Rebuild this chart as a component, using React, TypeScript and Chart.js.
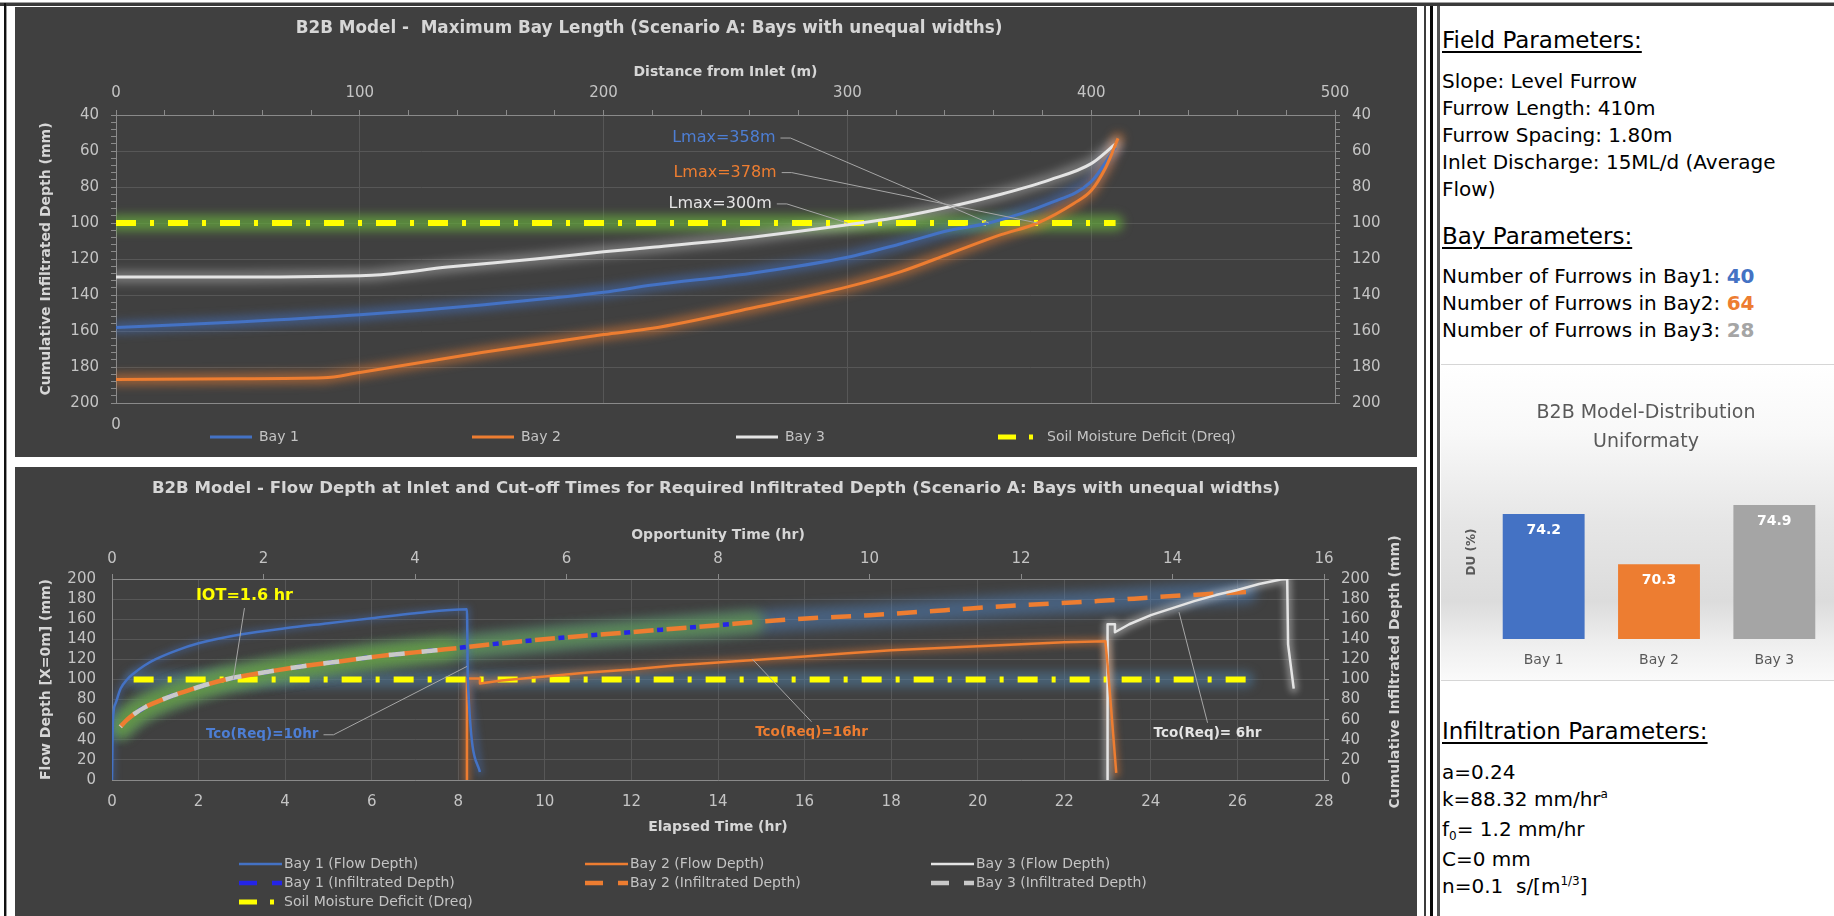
import React, { useEffect, useRef } from 'react';
import { Chart, registerables } from 'chart.js';

Chart.register(...registerables);

const FONT = '"DejaVu Sans", Verdana, sans-serif';
const PANEL_BG = '#404040';
const GRID = '#575757';
const AXIS = '#8a8a8a';
const TICK = '#c4c4c4';
const TITLE = '#d6d6d6';
const LEADER = '#a6a6a6';
const BLUE = '#4472c4';
const ORANGE = '#ed7d31';
const LIGHT = '#e4e4e4';
const YELLOW = '#ffff00';
const VIVID_BLUE = '#2424e8';
const GRAY_BAR = '#a5a5a5';

type P = [number, number];

// ===================== Top chart: Maximum Bay Length =====================
const distanceTickLabels = [0, 100, 200, 300, 400, 500];
const depthTickLabels = [40, 60, 80, 100, 120, 140, 160, 180, 200];

const lengthBay1: P[] = [[0, 158], [50, 155], [100, 151], [150, 145.5], [200, 138.5], [220, 134.5], [260, 128], [300, 119], [322, 111.5], [342, 104], [358, 100], [383, 89], [400, 77], [410, 58]];
const lengthBay2: P[] = [[0, 187], [50, 186.5], [85, 186], [100, 183], [150, 172], [200, 162], [220, 158.5], [260, 147.5], [300, 135.5], [322, 127], [342, 117], [363, 106.5], [378, 100], [393, 89], [400, 82], [406, 69], [411, 53]];
const lengthBay3: P[] = [[0, 130], [50, 130], [105, 129], [136, 124.5], [172, 120], [200, 116], [220, 113.5], [260, 108], [300, 101], [322, 96.5], [342, 91], [363, 84], [383, 76], [400, 67], [410, 56]];
const lengthDreq: P[] = [[0, 100], [410, 100]];
const lmaxLabels = ['Lmax=358m', 'Lmax=378m', 'Lmax=300m'];
const lmaxPoints: P[] = [[358, 100], [378, 100], [300, 100]];

// ===================== Bottom chart: Flow depth & infiltration =====================
const elapsedTickLabels = [0, 2, 4, 6, 8, 10, 12, 14, 16, 18, 20, 22, 24, 26, 28];
const opportunityTickLabels = [0, 2, 4, 6, 8, 10, 12, 14, 16];
const flowTickLabels = [0, 20, 40, 60, 80, 100, 120, 140, 160, 180, 200];

// x = elapsed time (hr), y = flow depth (mm)
const flowBay1: P[] = [[0, 0], [0.02, 58], [0.08, 76], [0.2, 91], [0.35, 100], [0.5, 106], [0.75, 114], [1, 120], [1.5, 129], [2, 136], [3, 145], [4, 151], [5, 156], [6, 161], [7, 166], [8.2, 170], [8.22, 100], [8.5, 8]];
const flowBay2: P[] = [[8.2, 0], [8.2, 101], [8.5, 101], [8.5, 96], [9, 99], [10, 103], [11, 107], [12, 110], [13, 114], [14, 117], [15, 120], [16, 123], [17, 126], [18, 129], [19, 131], [20, 133], [21, 135], [22, 137], [22.95, 138], [23.0, 115], [23.2, 7]];
const flowBay3: P[] = [[23.0, 0], [23.0, 155], [23.17, 155], [23.17, 147], [23.5, 155], [24, 164], [24.5, 171], [25, 178], [25.5, 184], [26, 189], [26.5, 195], [27, 199.5], [27.15, 200], [27.17, 135], [27.3, 91]];
// x = opportunity time (hr), y = cumulative infiltrated depth (mm)
const infilBay1: P[] = [[0.11, 53], [0.2, 60], [0.3, 66], [0.45, 73], [0.6, 78], [0.8, 84], [1.0, 89], [1.25, 95], [1.5, 100], [2.0, 107], [2.5, 113], [3.0, 118], [3.5, 123], [4.0, 127], [4.4, 130], [5.0, 135], [6.0, 142], [7.0, 148], [8.0, 154], [8.46, 157]];
const infilBay2: P[] = [[0.11, 53], [0.2, 60], [0.3, 66], [0.45, 73], [0.6, 78], [0.8, 84], [1.0, 89], [1.25, 95], [1.5, 100], [2.0, 107], [2.5, 113], [3.0, 118], [3.5, 123], [4.0, 127], [4.4, 130], [5.0, 135], [6.0, 142], [7.0, 148], [8.0, 154], [8.46, 157], [9.0, 160], [10.0, 164], [11.0, 169], [12.0, 174], [13.0, 178], [14.0, 183], [14.97, 187]];
const infilBay3: P[] = [[0.11, 53], [0.2, 60], [0.3, 66], [0.45, 73], [0.6, 78], [0.8, 84], [1.0, 89], [1.25, 95], [1.5, 100], [2.0, 107], [2.5, 113], [3.0, 118], [3.5, 123], [4.0, 127], [4.4, 130]];
const flowDreq: P[] = [[0.5, 100], [26.2, 100]];
const iotLabel = 'IOT=1.6 hr';
const iotPoint: P = [2.8, 100];
const tcoLabels = ['Tco(Req)=10hr', 'Tco(Req)=16hr', 'Tco(Req)= 6hr'];
const tcoPoints: P[] = [[8.2, 113], [14.8, 120], [24.65, 167]];

// ===================== Distribution uniformity bars =====================
const duCategories = ['Bay 1', 'Bay 2', 'Bay 3'];
const duValues = [74.2, 70.3, 74.9];

// ---------------------------------------------------------------------------
const toXY = (arr: P[]) => arr.map(([x, y]) => ({ x, y }));
const tickObjs = (vals: number[]) => vals.map((value) => ({ value }));
const stepTicks = (min: number, max: number, step: number) => {
  const out: any[] = [];
  for (let i = 0; min + i * step <= max + 1e-9; i++) out.push({ value: Math.round((min + i * step) * 1000) / 1000 });
  return out;
};
const TRANSPARENT = 'rgba(0,0,0,0)';

// soft coloured halos drawn under all lines (Excel "glow" effect)
const haloPlugin = {
  id: 'halo',
  beforeDatasetsDraw(chart: any) {
    const ctx = chart.ctx;
    const area = chart.chartArea;
    const list = chart.data.datasets
      .map((ds: any, i: number) => ({ ds, i }))
      .filter((o: any) => o.ds.haloColor)
      .sort((a: any, b: any) => (a.ds.haloZ || 0) - (b.ds.haloZ || 0));
    ctx.save();
    ctx.beginPath();
    ctx.rect(area.left, area.top, area.right - area.left, area.bottom - area.top);
    ctx.clip();
    list.forEach(({ ds, i }: any) => {
      const pts = chart.getDatasetMeta(i).data;
      if (!pts.length) return;
      ctx.save();
      ctx.filter = `blur(${ds.haloBlur || 5}px)`;
      ctx.strokeStyle = ds.haloColor;
      ctx.lineWidth = ds.haloWidth || 10;
      ctx.lineJoin = 'round';
      ctx.lineCap = 'round';
      ctx.beginPath();
      pts.forEach((p: any, k: number) => (k === 0 ? ctx.moveTo(p.x, p.y) : ctx.lineTo(p.x, p.y)));
      ctx.stroke();
      ctx.restore();
    });
    ctx.restore();
  },
};

function overlay(cfg: any) {
  return {
    id: 'overlay',
    afterDraw(chart: any) {
      const ctx = chart.ctx;
      ctx.save();
      (cfg.texts || []).forEach((t: any) => {
        ctx.save();
        ctx.font = t.font;
        ctx.fillStyle = t.color;
        ctx.textAlign = 'center';
        ctx.textBaseline = 'middle';
        ctx.translate(t.x, t.y);
        if (t.rotate) ctx.rotate(t.rotate);
        ctx.fillText(t.text, 0, 0);
        ctx.restore();
      });
      (cfg.notes || []).forEach((n: any) => {
        const xs = chart.scales[n.xAxis];
        const ys = chart.scales[n.yAxis];
        const px = xs.getPixelForValue(n.at[0]);
        const py = ys.getPixelForValue(n.at[1]);
        ctx.font = n.font;
        const w = ctx.measureText(n.text).width;
        const left = n.align === 'right' ? px - w : px - w / 2;
        const tx = xs.getPixelForValue(n.target[0]);
        const ty = ys.getPixelForValue(n.target[1]);
        ctx.strokeStyle = LEADER;
        ctx.lineWidth = 1;
        ctx.setLineDash([]);
        ctx.beginPath();
        if (n.from === 'right') {
          ctx.moveTo(left + w + 5, py);
          ctx.lineTo(left + w + 15, py);
        } else if (n.from === 'top') {
          ctx.moveTo(left + w / 2, py - 11);
        } else {
          ctx.moveTo(left + w / 2, py + 12);
        }
        ctx.lineTo(tx, ty);
        ctx.stroke();
        ctx.fillStyle = n.color;
        ctx.textAlign = 'left';
        ctx.textBaseline = 'middle';
        ctx.fillText(n.text, left, py);
      });
      if (cfg.legend) {
        const L = cfg.legend;
        L.items.forEach((it: any) => {
          const ds = chart.data.datasets[it.ds];
          ctx.save();
          ctx.strokeStyle = ds.borderColor;
          ctx.lineWidth = ds.legendWidth || ds.borderWidth;
          ctx.lineCap = 'butt';
          ctx.setLineDash(ds.legendDash || []);
          ctx.lineDashOffset = 0;
          ctx.beginPath();
          ctx.moveTo(it.x, it.y);
          ctx.lineTo(it.x + L.markerLen, it.y);
          ctx.stroke();
          ctx.restore();
          ctx.font = L.font;
          ctx.fillStyle = TICK;
          ctx.textAlign = 'left';
          ctx.textBaseline = 'middle';
          ctx.fillText(ds.label, it.x + L.textGap, it.y);
        });
      }
      if (cfg.barValues) {
        const meta = chart.getDatasetMeta(0);
        ctx.font = cfg.barValues.font;
        ctx.fillStyle = cfg.barValues.color;
        ctx.textAlign = 'center';
        ctx.textBaseline = 'middle';
        meta.data.forEach((bar: any, i: number) => {
          ctx.fillText(String(chart.data.datasets[0].data[i]), bar.x, bar.y + cfg.barValues.offset);
        });
      }
      ctx.restore();
    },
  };
}

const tickFont = { family: FONT, size: 15 };
const axisTitleFont = { family: FONT, size: 14, weight: 'bold' as const };

function makeLengthChart(): any {
  const gridAt = (labels: number[]) => (c: any) => (c.tick && labels.includes(c.tick.value) ? GRID : TRANSPARENT);
  const curve = { cubicInterpolationMode: 'monotone', xAxisID: 'x', yAxisID: 'y' };
  return {
    type: 'line',
    data: {
      datasets: [
        { ...curve, label: 'Bay 1', data: toXY(lengthBay1), borderColor: BLUE, borderWidth: 3, haloColor: 'rgba(68,114,196,0.55)', haloWidth: 11, haloBlur: 5, order: 2 },
        { ...curve, label: 'Bay 2', data: toXY(lengthBay2), borderColor: ORANGE, borderWidth: 3, haloColor: 'rgba(237,125,49,0.55)', haloWidth: 11, haloBlur: 5, order: 1 },
        { ...curve, label: 'Bay 3', data: toXY(lengthBay3), borderColor: LIGHT, borderWidth: 3, haloColor: 'rgba(255,255,255,0.3)', haloWidth: 12, haloBlur: 5, order: 3 },
        { label: 'Soil Moisture Deficit (Dreq)', xAxisID: 'x', yAxisID: 'y', data: toXY(lengthDreq), borderColor: YELLOW, borderWidth: 6, borderDash: [20, 14, 4, 14], legendDash: [18, 13, 4, 100], legendWidth: 5, haloColor: 'rgba(100,165,60,0.75)', haloWidth: 16, haloBlur: 5, haloZ: -1, order: 4 },
      ],
    },
    options: {
      responsive: false,
      animation: false,
      events: [],
      layout: { padding: { top: 40, left: 0, right: 0, bottom: 0 } },
      elements: { point: { radius: 0, hoverRadius: 0 }, line: { borderCapStyle: 'butt', borderJoinStyle: 'round', tension: 0 } },
      plugins: { legend: { display: false }, tooltip: { enabled: false }, title: { display: false } },
      scales: {
        x: {
          type: 'linear', position: 'top', min: 0, max: 500,
          afterBuildTicks: (s: any) => { s.ticks = stepTicks(0, 500, 20); },
          afterFit: (s: any) => { s.height = 68; },
          ticks: { autoSkip: false, maxRotation: 0, padding: 8, color: TICK, font: tickFont, callback: (v: any) => (distanceTickLabels.includes(v) ? String(v) : '') },
          grid: { drawTicks: true, tickLength: 5, tickColor: AXIS, color: gridAt(distanceTickLabels), lineWidth: 1 },
          border: { color: AXIS, width: 1 },
          title: { display: true, text: 'Distance from Inlet (m)', color: TITLE, font: axisTitleFont, padding: { top: 17, bottom: 0 } },
        },
        xb: {
          type: 'linear', position: 'bottom', min: 0, max: 500,
          afterBuildTicks: (s: any) => { s.ticks = tickObjs([0]); },
          afterFit: (s: any) => { s.height = 54; },
          ticks: { autoSkip: false, maxRotation: 0, padding: 13, color: TICK, font: tickFont },
          grid: { display: false, drawTicks: false },
          border: { display: true, color: AXIS, width: 1 },
        },
        y: {
          type: 'linear', position: 'left', reverse: true, min: 40, max: 200,
          afterBuildTicks: (s: any) => { s.ticks = stepTicks(40, 200, 4); },
          afterFit: (s: any) => { s.width = 101; },
          ticks: { autoSkip: false, padding: 12, color: TICK, font: tickFont, callback: (v: any) => (depthTickLabels.includes(v) ? String(v) : '') },
          grid: { drawTicks: true, tickLength: 5, tickColor: AXIS, color: gridAt(depthTickLabels), lineWidth: 1 },
          border: { color: AXIS, width: 1 },
          title: { display: true, text: 'Cumulative Infiltrated Depth (mm)', color: TITLE, font: axisTitleFont, padding: { top: 23, bottom: 0 } },
        },
        y2: {
          type: 'linear', position: 'right', reverse: true, min: 40, max: 200,
          afterBuildTicks: (s: any) => { s.ticks = stepTicks(40, 200, 4); },
          afterFit: (s: any) => { s.width = 82; },
          ticks: { autoSkip: false, padding: 12, color: TICK, font: tickFont, callback: (v: any) => (depthTickLabels.includes(v) ? String(v) : '') },
          grid: { drawOnChartArea: false, drawTicks: true, tickLength: 5, tickColor: AXIS },
          border: { color: AXIS, width: 1 },
        },
      },
    },
    plugins: [
      haloPlugin,
      overlay({
        texts: [
          { text: 'B2B Model -  Maximum Bay Length (Scenario A: Bays with unequal widths)', x: 634, y: 22, font: `bold 16.8px ${FONT}`, color: TITLE },
        ],
        notes: [
          { text: lmaxLabels[0], color: '#4d7ed4', font: `16px ${FONT}`, xAxis: 'x', yAxis: 'y', at: [270.5, 52.8], align: 'right', from: 'right', target: lmaxPoints[0] },
          { text: lmaxLabels[1], color: ORANGE, font: `16px ${FONT}`, xAxis: 'x', yAxis: 'y', at: [271, 72], align: 'right', from: 'right', target: lmaxPoints[1] },
          { text: lmaxLabels[2], color: LIGHT, font: `16px ${FONT}`, xAxis: 'x', yAxis: 'y', at: [269, 89.4], align: 'right', from: 'right', target: lmaxPoints[2] },
        ],
        legend: {
          font: `14px ${FONT}`, markerLen: 42, textGap: 49,
          items: [
            { ds: 0, x: 195, y: 430 },
            { ds: 1, x: 457, y: 430 },
            { ds: 2, x: 721, y: 430 },
            { ds: 3, x: 983, y: 430 },
          ],
        },
      }),
    ],
  };
}

function makeFlowChart(): any {
  const flow = { xAxisID: 'x', yAxisID: 'y', borderWidth: 2.5, order: 0 };
  const infil = { xAxisID: 'x2', yAxisID: 'y2', borderWidth: 4.5, cubicInterpolationMode: 'monotone', legendDash: [18, 15] };
  return {
    type: 'line',
    data: {
      datasets: [
        { ...flow, label: 'Bay 1 (Flow Depth)', data: toXY(flowBay1), borderColor: BLUE, cubicInterpolationMode: 'monotone', haloColor: 'rgba(68,114,196,0.35)', haloWidth: 7, haloBlur: 3, haloZ: 3 },
        { ...flow, label: 'Bay 2 (Flow Depth)', data: toXY(flowBay2), borderColor: ORANGE, haloColor: 'rgba(237,125,49,0.4)', haloWidth: 8, haloBlur: 3, haloZ: 3 },
        { ...flow, label: 'Bay 3 (Flow Depth)', data: toXY(flowBay3), borderColor: LIGHT, haloColor: 'rgba(255,255,255,0.35)', haloWidth: 9, haloBlur: 3, haloZ: 3 },
        { ...infil, label: 'Bay 1 (Infiltrated Depth)', data: toXY(infilBay1), borderColor: VIVID_BLUE, borderDash: [6, 27], borderDashOffset: 9.5, haloColor: 'rgba(104,160,62,0.6)', haloWidth: 22, haloBlur: 6, haloZ: 2, order: 3 },
        { ...infil, label: 'Bay 2 (Infiltrated Depth)', data: toXY(infilBay2), borderColor: ORANGE, borderDash: [20, 13], borderDashOffset: 0, haloColor: 'rgba(80,130,190,0.5)', haloWidth: 22, haloBlur: 6, haloZ: 1, order: 2 },
        { ...infil, label: 'Bay 3 (Infiltrated Depth)', data: toXY(infilBay3), borderColor: '#c9c9c9', borderDash: [16, 17], borderDashOffset: 15, haloColor: 'rgba(104,160,62,0.6)', haloWidth: 22, haloBlur: 6, haloZ: 2, order: 1 },
        { label: 'Soil Moisture Deficit (Dreq)', xAxisID: 'x', yAxisID: 'y', data: toXY(flowDreq), borderColor: YELLOW, borderWidth: 6, borderDash: [20, 14, 4, 14], legendDash: [18, 13, 4, 100], legendWidth: 5, haloColor: 'rgba(80,130,170,0.5)', haloWidth: 16, haloBlur: 5, haloZ: 0, order: 5 },
      ],
    },
    options: {
      responsive: false,
      animation: false,
      events: [],
      layout: { padding: { top: 40, left: 0, right: 0, bottom: 76 } },
      elements: { point: { radius: 0, hoverRadius: 0 }, line: { borderCapStyle: 'butt', borderJoinStyle: 'round', tension: 0 } },
      plugins: { legend: { display: false }, tooltip: { enabled: false }, title: { display: false } },
      scales: {
        x: {
          type: 'linear', position: 'bottom', min: 0, max: 28,
          afterBuildTicks: (s: any) => { s.ticks = tickObjs(elapsedTickLabels); },
          afterFit: (s: any) => { s.height = 60; },
          ticks: { autoSkip: false, maxRotation: 0, padding: 13, color: TICK, font: tickFont },
          grid: { color: GRID, drawTicks: false, lineWidth: 1 },
          border: { color: AXIS, width: 1 },
          title: { display: true, text: 'Elapsed Time (hr)', color: TITLE, font: axisTitleFont, padding: { top: 0, bottom: 4 } },
        },
        x2: {
          type: 'linear', position: 'top', min: 0, max: 16,
          afterBuildTicks: (s: any) => { s.ticks = tickObjs(opportunityTickLabels); },
          afterFit: (s: any) => { s.height = 72; },
          ticks: { autoSkip: false, maxRotation: 0, padding: 6, color: TICK, font: tickFont },
          grid: { drawOnChartArea: false, drawTicks: true, tickLength: 5, tickColor: AXIS },
          border: { color: AXIS, width: 1 },
          title: { display: true, text: 'Opportunity Time (hr)', color: TITLE, font: axisTitleFont, padding: { top: 20, bottom: 0 } },
        },
        y: {
          type: 'linear', position: 'left', min: 0, max: 200,
          afterBuildTicks: (s: any) => { s.ticks = tickObjs(flowTickLabels); },
          afterFit: (s: any) => { s.width = 97; },
          ticks: { autoSkip: false, padding: 16, color: TICK, font: tickFont },
          grid: { color: GRID, drawTicks: false, lineWidth: 1 },
          border: { color: AXIS, width: 1 },
          title: { display: true, text: 'Flow Depth [X=0m] (mm)', color: TITLE, font: axisTitleFont, padding: { top: 23, bottom: 0 } },
        },
        y2: {
          type: 'linear', position: 'right', min: 0, max: 200,
          afterBuildTicks: (s: any) => { s.ticks = tickObjs(flowTickLabels); },
          afterFit: (s: any) => { s.width = 93; },
          ticks: { autoSkip: false, padding: 12, color: TICK, font: tickFont },
          grid: { drawOnChartArea: false, drawTicks: true, tickLength: 5, tickColor: AXIS },
          border: { color: AXIS, width: 1 },
        },
      },
    },
    plugins: [
      haloPlugin,
      overlay({
        texts: [
          { text: 'B2B Model - Flow Depth at Inlet and Cut-off Times for Required Infiltrated Depth (Scenario A: Bays with unequal widths)', x: 701, y: 22, font: `bold 16.6px ${FONT}`, color: TITLE },
          { text: 'Cumulative Infiltrated Depth (mm)', x: 1380, y: 205, rotate: -Math.PI / 2, font: `bold 14px ${FONT}`, color: TITLE },
        ],
        notes: [
          { text: iotLabel, color: YELLOW, font: `bold 16px ${FONT}`, xAxis: 'x', yAxis: 'y', at: [3.06, 183], from: 'bottom', target: iotPoint },
          { text: tcoLabels[0], color: '#4d7ed4', font: `bold 13.5px ${FONT}`, xAxis: 'x', yAxis: 'y', at: [3.47, 45], from: 'right', target: tcoPoints[0] },
          { text: tcoLabels[1], color: ORANGE, font: `bold 13.5px ${FONT}`, xAxis: 'x', yAxis: 'y', at: [16.16, 47], from: 'top', target: tcoPoints[1] },
          { text: tcoLabels[2], color: LIGHT, font: `bold 13.5px ${FONT}`, xAxis: 'x', yAxis: 'y', at: [25.31, 46], from: 'top', target: tcoPoints[2] },
        ],
        legend: {
          font: `14px ${FONT}`, markerLen: 43, textGap: 45,
          items: [
            { ds: 0, x: 224, y: 397 }, { ds: 1, x: 570, y: 397 }, { ds: 2, x: 916, y: 397 },
            { ds: 3, x: 224, y: 416 }, { ds: 4, x: 570, y: 416 }, { ds: 5, x: 916, y: 416 },
            { ds: 6, x: 224, y: 435 },
          ],
        },
      }),
    ],
  };
}

function makeDuChart(): any {
  return {
    type: 'bar',
    data: {
      labels: duCategories,
      datasets: [{ data: duValues, backgroundColor: [BLUE, ORANGE, GRAY_BAR], borderWidth: 0, categoryPercentage: 1, barPercentage: 0.71 }],
    },
    options: {
      responsive: false,
      animation: false,
      events: [],
      layout: { padding: { top: 100, right: 2, left: 0, bottom: 0 } },
      plugins: { legend: { display: false }, tooltip: { enabled: false }, title: { display: false } },
      scales: {
        x: {
          afterFit: (s: any) => { s.height = 41; },
          ticks: { padding: 13, color: '#595959', font: { family: FONT, size: 14 } },
          grid: { display: false, drawTicks: false },
          border: { display: false },
        },
        y: {
          min: 64.5, max: 78,
          afterFit: (s: any) => { s.width = 45; },
          ticks: { display: false },
          grid: { display: false, drawTicks: false },
          border: { display: false },
          title: { display: true, text: 'DU (%)', color: '#595959', font: { family: FONT, size: 12, weight: 'bold' }, padding: { top: 24, bottom: 0 } },
        },
      },
    },
    plugins: [
      overlay({
        texts: [
          { text: 'B2B Model-Distribution', x: 205, y: 48, font: `19px ${FONT}`, color: '#595959' },
          { text: 'Uniformaty', x: 205, y: 77, font: `19px ${FONT}`, color: '#595959' },
        ],
        barValues: { font: `bold 14px ${FONT}`, color: '#ffffff', offset: 16 },
      }),
    ],
  };
}

function ChartCanvas({ make, left, top, width, height }: any) {
  const ref = useRef<HTMLCanvasElement>(null);
  useEffect(() => {
    if (!ref.current) return;
    const chart = new Chart(ref.current, make());
    return () => chart.destroy();
  }, [make]);
  return <canvas ref={ref} width={width} height={height} style={{ position: 'absolute', left, top, width, height, display: 'block' }} />;
}

const txt: React.CSSProperties = { position: 'absolute', left: 1442, color: '#000', fontFamily: FONT, fontSize: 20, lineHeight: '27px', whiteSpace: 'nowrap' };
const head: React.CSSProperties = { ...txt, fontSize: 23, textDecoration: 'underline', textDecorationThickness: 2, textUnderlineOffset: 3 };
const sup: React.CSSProperties = { fontSize: 12, position: 'relative', top: -8 };
const sub: React.CSSProperties = { fontSize: 12, position: 'relative', top: 4 };

export default function App() {
  return (
    <div style={{ position: 'absolute', left: 0, top: 0, width: 1834, height: 916, background: '#fff', overflow: 'hidden', fontFamily: FONT }}>
      <div style={{ position: 'absolute', left: 0, top: 2, width: 1834, height: 1, background: '#a0a0a0' }} />
      <div style={{ position: 'absolute', left: 0, top: 3, width: 1834, height: 3, background: '#3a3a3a' }} />
      <div style={{ position: 'absolute', left: 4, top: 3, width: 2, height: 913, background: '#111' }} />
      <div style={{ position: 'absolute', left: 6, top: 6, width: 1, height: 910, background: '#9a9a9a' }} />

      <div style={{ position: 'absolute', left: 15, top: 7, width: 1402, height: 450, background: PANEL_BG }} />
      <ChartCanvas make={makeLengthChart} left={15} top={7} width={1402} height={450} />
      <div style={{ position: 'absolute', left: 15, top: 467, width: 1402, height: 449, background: PANEL_BG }} />
      <ChartCanvas make={makeFlowChart} left={15} top={467} width={1402} height={449} />

      <div style={{ position: 'absolute', left: 1424, top: 6, width: 2, height: 910, background: '#3c3c3c' }} />
      <div style={{ position: 'absolute', left: 1430, top: 6, width: 3, height: 910, background: '#0a0a0a' }} />
      <div style={{ position: 'absolute', left: 1437, top: 6, width: 3, height: 910, background: '#555' }} />

      <div style={{ ...head, top: 27 }}>Field Parameters:</div>
      <div style={{ ...txt, top: 68 }}>
        <div>Slope: Level Furrow</div>
        <div>Furrow Length: 410m</div>
        <div>Furrow Spacing: 1.80m</div>
        <div>Inlet Discharge: 15ML/d (Average</div>
        <div>Flow)</div>
      </div>
      <div style={{ ...head, top: 223 }}>Bay Parameters:</div>
      <div style={{ ...txt, top: 263 }}>
        <div>Number of Furrows in Bay1: <b style={{ color: BLUE }}>40</b></div>
        <div>Number of Furrows in Bay2: <b style={{ color: ORANGE }}>64</b></div>
        <div>Number of Furrows in Bay3: <b style={{ color: GRAY_BAR }}>28</b></div>
      </div>

      <div style={{ position: 'absolute', left: 1441, top: 364, width: 393, height: 315, borderTop: '1px solid #d6d6d6', borderBottom: '1px solid #d6d6d6', background: 'linear-gradient(to bottom, #ffffff 0%, #f8f8f8 22%, #e6e6e6 50%, #dcdcdc 75%, #eeeeee 88%, #fafafa 100%)' }} />
      <ChartCanvas make={makeDuChart} left={1441} top={365} width={393} height={315} />

      <div style={{ ...head, top: 718 }}>Infiltration Parameters:</div>
      <div style={{ ...txt, top: 759 }}>
        <div>a=0.24</div>
        <div>k=88.32 mm/hr<span style={sup}>a</span></div>
        <div>f<span style={sub}>0</span>= 1.2 mm/hr</div>
        <div>C=0 mm</div>
        <div>n=0.1&nbsp; s/[m<span style={sup}>1/3</span>]</div>
      </div>
    </div>
  );
}
